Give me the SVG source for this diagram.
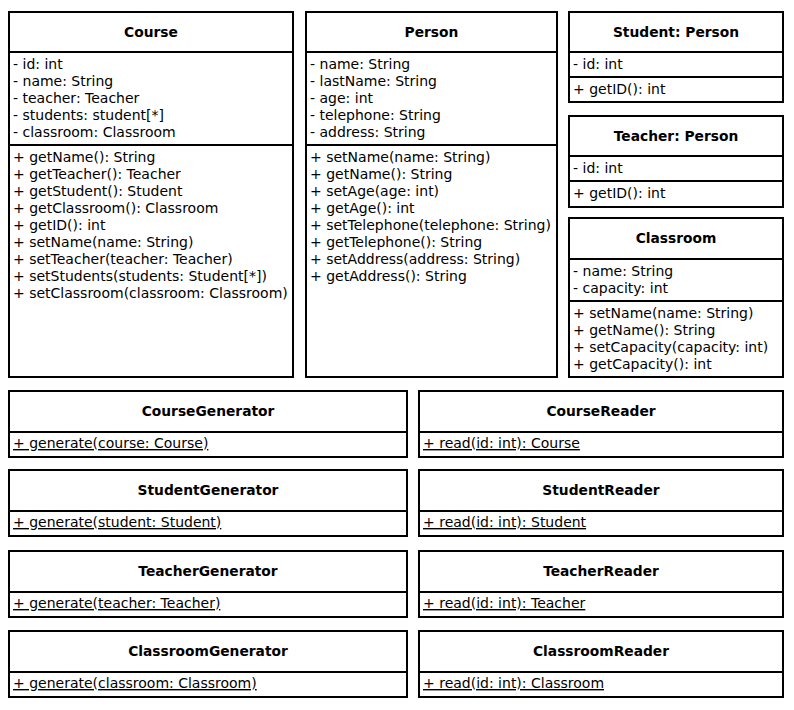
<svg xmlns="http://www.w3.org/2000/svg" width="794" height="710" viewBox="0 0 794 710">
<style>
.box{fill:#fff;stroke:#000;stroke-width:2}
.sep{stroke:#000;stroke-width:2}
text{font-family:"DejaVu Sans","Liberation Sans",sans-serif;font-size:14px;fill:#000}
.t{font-weight:bold;text-anchor:middle;font-size:13.8px}
.u{text-decoration:underline}
</style>
<rect width="794" height="710" fill="#fff"/>
<g id="Course">
<rect class="box" x="9" y="12" width="284" height="365"/>
<line class="sep" x1="9" y1="52" x2="293" y2="52"/>
<line class="sep" x1="9" y1="145" x2="293" y2="145"/>
<text class="t" x="151" y="37">Course</text>
<text x="13" y="69">- id: int</text>
<text x="13" y="86">- name: String</text>
<text x="13" y="103">- teacher: Teacher</text>
<text x="13" y="120">- students: student[*]</text>
<text x="13" y="137">- classroom: Classroom</text>
<text x="13" y="162">+ getName(): String</text>
<text x="13" y="179">+ getTeacher(): Teacher</text>
<text x="13" y="196">+ getStudent(): Student</text>
<text x="13" y="213">+ getClassroom(): Classroom</text>
<text x="13" y="230">+ getID(): int</text>
<text x="13" y="247">+ setName(name: String)</text>
<text x="13" y="264">+ setTeacher(teacher: Teacher)</text>
<text x="13" y="281">+ setStudents(students: Student[*])</text>
<text x="13" y="298">+ setClassroom(classroom: Classroom)</text>
</g>
<g id="Person">
<rect class="box" x="306" y="12" width="251" height="365"/>
<line class="sep" x1="306" y1="52" x2="557" y2="52"/>
<line class="sep" x1="306" y1="145" x2="557" y2="145"/>
<text class="t" x="431.5" y="37">Person</text>
<text x="310" y="69">- name: String</text>
<text x="310" y="86">- lastName: String</text>
<text x="310" y="103">- age: int</text>
<text x="310" y="120">- telephone: String</text>
<text x="310" y="137">- address: String</text>
<text x="310" y="162">+ setName(name: String)</text>
<text x="310" y="179">+ getName(): String</text>
<text x="310" y="196">+ setAge(age: int)</text>
<text x="310" y="213">+ getAge(): int</text>
<text x="310" y="230">+ setTelephone(telephone: String)</text>
<text x="310" y="247">+ getTelephone(): String</text>
<text x="310" y="264">+ setAddress(address: String)</text>
<text x="310" y="281">+ getAddress(): String</text>
</g>
<g id="Student">
<rect class="box" x="569" y="12" width="214" height="90"/>
<line class="sep" x1="569" y1="52" x2="783" y2="52"/>
<line class="sep" x1="569" y1="77" x2="783" y2="77"/>
<text class="t" x="676" y="37">Student: Person</text>
<text x="573" y="69">- id: int</text>
<text x="573" y="94">+ getID(): int</text>
</g>
<g id="Teacher">
<rect class="box" x="569" y="116" width="214" height="91"/>
<line class="sep" x1="569" y1="156" x2="783" y2="156"/>
<line class="sep" x1="569" y1="181" x2="783" y2="181"/>
<text class="t" x="676" y="141">Teacher: Person</text>
<text x="573" y="173">- id: int</text>
<text x="573" y="198">+ getID(): int</text>
</g>
<g id="Classroom">
<rect class="box" x="569" y="218" width="214" height="159"/>
<line class="sep" x1="569" y1="259" x2="783" y2="259"/>
<line class="sep" x1="569" y1="301" x2="783" y2="301"/>
<text class="t" x="676" y="243">Classroom</text>
<text x="573" y="276">- name: String</text>
<text x="573" y="293">- capacity: int</text>
<text x="573" y="318">+ setName(name: String)</text>
<text x="573" y="335">+ getName(): String</text>
<text x="573" y="352">+ setCapacity(capacity: int)</text>
<text x="573" y="369">+ getCapacity(): int</text>
</g>
<g id="CourseGenerator">
<rect class="box" x="9" y="391" width="398" height="66"/>
<line class="sep" x1="9" y1="432" x2="407" y2="432"/>
<text class="t" x="208" y="416">CourseGenerator</text>
<text class="u" x="13" y="448">+ generate(course: Course)</text>
</g>
<g id="StudentGenerator">
<rect class="box" x="9" y="470" width="398" height="66"/>
<line class="sep" x1="9" y1="511" x2="407" y2="511"/>
<text class="t" x="208" y="495">StudentGenerator</text>
<text class="u" x="13" y="527">+ generate(student: Student)</text>
</g>
<g id="TeacherGenerator">
<rect class="box" x="9" y="551" width="398" height="66"/>
<line class="sep" x1="9" y1="592" x2="407" y2="592"/>
<text class="t" x="208" y="576">TeacherGenerator</text>
<text class="u" x="13" y="608">+ generate(teacher: Teacher)</text>
</g>
<g id="ClassroomGenerator">
<rect class="box" x="9" y="631" width="398" height="66"/>
<line class="sep" x1="9" y1="672" x2="407" y2="672"/>
<text class="t" x="208" y="656">ClassroomGenerator</text>
<text class="u" x="13" y="688">+ generate(classroom: Classroom)</text>
</g>
<g id="CourseReader">
<rect class="box" x="419" y="391" width="364" height="66"/>
<line class="sep" x1="419" y1="432" x2="783" y2="432"/>
<text class="t" x="601" y="416">CourseReader</text>
<text class="u" x="423" y="448">+ read(id: int): Course</text>
</g>
<g id="StudentReader">
<rect class="box" x="419" y="470" width="364" height="66"/>
<line class="sep" x1="419" y1="511" x2="783" y2="511"/>
<text class="t" x="601" y="495">StudentReader</text>
<text class="u" x="423" y="527">+ read(id: int): Student</text>
</g>
<g id="TeacherReader">
<rect class="box" x="419" y="551" width="364" height="66"/>
<line class="sep" x1="419" y1="592" x2="783" y2="592"/>
<text class="t" x="601" y="576">TeacherReader</text>
<text class="u" x="423" y="608">+ read(id: int): Teacher</text>
</g>
<g id="ClassroomReader">
<rect class="box" x="419" y="631" width="364" height="66"/>
<line class="sep" x1="419" y1="672" x2="783" y2="672"/>
<text class="t" x="601" y="656">ClassroomReader</text>
<text class="u" x="423" y="688">+ read(id: int): Classroom</text>
</g>
<g id="connectors"/>
</svg>
